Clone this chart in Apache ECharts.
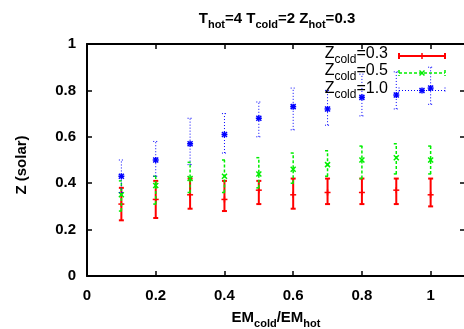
<!DOCTYPE html>
<html>
<head>
<meta charset="utf-8">
<script src="https://cdn.jsdelivr.net/npm/echarts@6/dist/echarts.min.js"></script>
<style>
  html, body { margin: 0; padding: 0; background: #fff; }
  #chart { width: 464px; height: 329px; }
</style>
</head>
<body>
<div id="chart"></div>
<script>
// Emission-measure ratio (x) and fitted cold-component metallicity with error ranges
const emRatio = [0.1, 0.2, 0.3, 0.4, 0.5, 0.6, 0.7, 0.8, 0.9, 1.0];

const zc03 = [0.31, 0.33, 0.35, 0.33, 0.37, 0.35, 0.36, 0.36, 0.37, 0.35];
const zc03Lo = [0.24, 0.25, 0.29, 0.28, 0.31, 0.29, 0.31, 0.31, 0.31, 0.30];
const zc03Hi = [0.38, 0.41, 0.42, 0.41, 0.41, 0.42, 0.42, 0.42, 0.42, 0.42];

const zc05 = [0.35, 0.39, 0.42, 0.43, 0.44, 0.46, 0.48, 0.50, 0.51, 0.50];
const zc05Lo = [0.28, 0.31, 0.36, 0.36, 0.38, 0.40, 0.43, 0.42, 0.44, 0.44];
const zc05Hi = [0.41, 0.43, 0.49, 0.50, 0.51, 0.53, 0.54, 0.56, 0.57, 0.56];

const zc10 = [0.43, 0.50, 0.57, 0.61, 0.68, 0.73, 0.72, 0.77, 0.78, 0.81];
const zc10Lo = [0.36, 0.43, 0.48, 0.53, 0.60, 0.63, 0.65, 0.69, 0.72, 0.74];
const zc10Hi = [0.50, 0.58, 0.68, 0.70, 0.75, 0.81, 0.80, 0.87, 0.88, 0.90];

const legendLabels = ['0.3', '0.5', '1.0'];

const FONT = "'Liberation Sans', Arial, Helvetica, sans-serif";

const styles = [
  { color: '#ff0000', width: 2, dash: null, marker: 'plus' },
  { color: '#00ee00', width: 1.5, dash: [3, 2], marker: 'cross' },
  { color: '#0000ff', width: 1, dash: [1, 2], marker: 'star' }
];

function markerShapes(cx, cy, st) {
  const out = [];
  const line = (x1, y1, x2, y2, w) => out.push({
    type: 'line',
    shape: { x1, y1, x2, y2 },
    style: { stroke: st.color, lineWidth: w }
  });
  if (st.marker === 'plus') {
    line(cx - 3, cy, cx + 3, cy, 1.5);
    line(cx, cy - 3, cx, cy + 3, 1.5);
  } else if (st.marker === 'cross') {
    line(cx - 2.5, cy - 2.5, cx + 2.5, cy + 2.5, 1.5);
    line(cx - 2.5, cy + 2.5, cx + 2.5, cy - 2.5, 1.5);
  } else {
    line(cx - 3, cy, cx + 3, cy, 1.5);
    line(cx, cy - 3, cx, cy + 3, 1.5);
    line(cx - 2.5, cy - 2.5, cx + 2.5, cy + 2.5, 1.5);
    line(cx - 2.5, cy + 2.5, cx + 2.5, cy - 2.5, 1.5);
  }
  return out;
}

function errSeries(name, mean, lo, hi, st) {
  return {
    name,
    type: 'custom',
    xAxisIndex: 0,
    yAxisIndex: 0,
    data: emRatio.map((x, i) => [x, mean[i], lo[i], hi[i]]),
    encode: { x: 0, y: [1, 2, 3] },
    renderItem(params, api) {
      const p = api.coord([api.value(0), api.value(1)]);
      const a = api.coord([api.value(0), api.value(2)]);
      const b = api.coord([api.value(0), api.value(3)]);
      const cap = 2.5;
      const base = { stroke: st.color, lineWidth: st.width, lineDash: st.dash };
      const children = [
        { type: 'line', shape: { x1: a[0], y1: a[1], x2: b[0], y2: b[1] }, style: base },
        { type: 'line', shape: { x1: a[0] - cap, y1: a[1], x2: a[0] + cap, y2: a[1] }, style: base },
        { type: 'line', shape: { x1: b[0] - cap, y1: b[1], x2: b[0] + cap, y2: b[1] }, style: base }
      ].concat(markerShapes(p[0], p[1], st));
      return { type: 'group', children };
    }
  };
}

// Key: label text on the left, horizontal sample bar with end caps on the right
function legendRow(label, y, st) {
  const x1 = 399, x2 = 445, xm = 422, cap = 3;
  const base = { stroke: st.color, lineWidth: st.width, lineDash: st.dash };
  return [
    {
      type: 'text', x: 388, y: y,
      style: {
        text: '{n|Z}{s|cold}{n|=' + label + '}',
        align: 'right', verticalAlign: 'middle',
        fill: '#000', font: '16px ' + FONT,
        rich: {
          n: { fontSize: 16, fontFamily: FONT, verticalAlign: 'bottom', padding: [0, 0, 4, 0] },
          s: { fontSize: 12, fontFamily: FONT, verticalAlign: 'bottom' }
        }
      },
      z: 100
    },
    { type: 'line', shape: { x1, y1: y, x2, y2: y }, style: base, z: 100 },
    { type: 'line', shape: { x1, y1: y - cap, x2: x1, y2: y + cap }, style: base, z: 100 },
    { type: 'line', shape: { x1: x2, y1: y - cap, x2, y2: y + cap }, style: base, z: 100 },
    { type: 'group', children: markerShapes(xm, y, st), z: 100 }
  ];
}

const chart = echarts.init(document.getElementById('chart'), null, { renderer: 'canvas' });

const axisLine = { show: true, onZero: false, lineStyle: { color: '#000', width: 2 } };
const tick = { show: true, inside: true, length: 5, lineStyle: { color: '#000', width: 1.5 } };
const tickLabel = { color: '#000', fontFamily: FONT, fontWeight: 'bold', fontSize: 15 };

chart.setOption({
  animation: false,
  backgroundColor: '#fff',
  title: {
    text: '{n|T}{s|hot}{n|=4 T}{s|cold}{n|=2 Z}{s|hot}{n|=0.3}',
    left: 272, top: 6, textAlign: 'center',
    textStyle: {
      rich: {
        n: { fontSize: 15, fontFamily: FONT, color: '#000', verticalAlign: 'bottom', padding: [0, 0, 4, 0] },
        s: { fontSize: 11, fontFamily: FONT, color: '#000', verticalAlign: 'bottom' }
      }
    }
  },
  grid: { left: 87, top: 44, right: -1, bottom: 53, containLabel: false, outerBoundsMode: 'none' },
  xAxis: [
    {
      type: 'value', min: 0, max: 1.1, interval: 0.2, position: 'bottom',
      axisLine, axisTick: tick, splitLine: { show: false },
      axisLabel: Object.assign({ margin: 12, showMaxLabel: false }, tickLabel),
      name: '{n|EM}{s|cold}{n|/EM}{s|hot}',
      nameLocation: 'middle', nameGap: 34,
      nameTextStyle: {
        rich: {
          n: { fontSize: 15, fontFamily: FONT, fontWeight: 'bold', color: '#000', verticalAlign: 'bottom', padding: [0, 0, 4, 0] },
          s: { fontSize: 11, fontFamily: FONT, fontWeight: 'bold', color: '#000', verticalAlign: 'bottom' }
        }
      }
    },
    {
      type: 'value', min: 0, max: 1.1, interval: 0.2, position: 'top',
      axisLine, axisTick: tick, axisLabel: { show: false }, splitLine: { show: false }
    }
  ],
  yAxis: [
    {
      type: 'value', min: 0, max: 1, interval: 0.2, position: 'left',
      axisLine, axisTick: tick, splitLine: { show: false },
      axisLabel: Object.assign({ margin: 11 }, tickLabel),
      name: 'Z (solar)', nameLocation: 'middle', nameGap: 58, nameRotate: 90,
      nameTextStyle: { fontSize: 15, fontFamily: FONT, fontWeight: 'bold', color: '#000', padding: [0, 10, 0, 0] }
    },
    {
      type: 'value', min: 0, max: 1, interval: 0.2, position: 'right',
      axisLine, axisTick: tick, axisLabel: { show: false }, splitLine: { show: false }
    }
  ],
  series: [
    errSeries('Zcold=0.3', zc03, zc03Lo, zc03Hi, styles[0]),
    errSeries('Zcold=0.5', zc05, zc05Lo, zc05Hi, styles[1]),
    errSeries('Zcold=1.0', zc10, zc10Lo, zc10Hi, styles[2])
  ],
  graphic: [].concat(
    legendRow(legendLabels[0], 56, styles[0]),
    legendRow(legendLabels[1], 73, styles[1]),
    legendRow(legendLabels[2], 90.5, styles[2])
  )
});
</script>
</body>
</html>
